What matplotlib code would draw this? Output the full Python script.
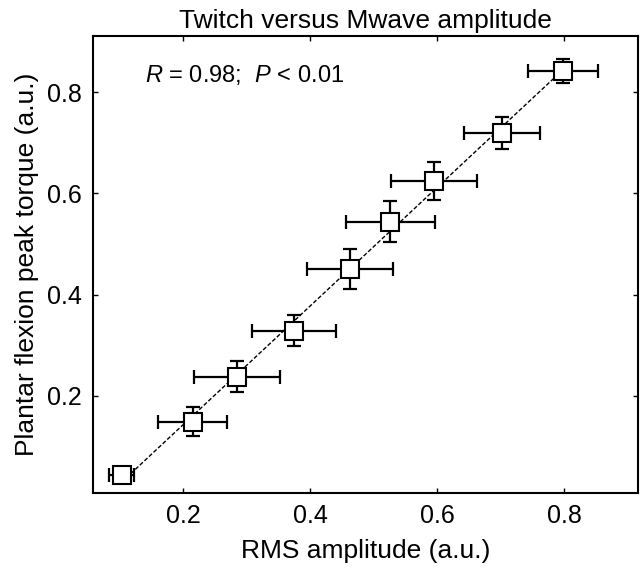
import numpy as np
import matplotlib
matplotlib.use("Agg")
import matplotlib.pyplot as plt

plt.rcParams['font.family'] = ['Liberation Sans', 'DejaVu Sans']
plt.rcParams['mathtext.fontset'] = 'custom'
plt.rcParams['mathtext.rm'] = 'Liberation Sans'
plt.rcParams['mathtext.it'] = 'Liberation Sans:italic'

# group means (a.u.)
rms_amp = [0.103, 0.215, 0.285, 0.375, 0.463, 0.526, 0.595, 0.702, 0.798]
peak_torque = [0.044, 0.149, 0.238, 0.329, 0.451, 0.544, 0.624, 0.719, 0.842]
rms_err = [0.020, 0.054, 0.068, 0.066, 0.068, 0.070, 0.068, 0.060, 0.055]
torque_err = [0.008, 0.028, 0.030, 0.031, 0.039, 0.040, 0.037, 0.032, 0.024]
x_ticks = [0.2, 0.4, 0.6, 0.8]
y_ticks = [0.2, 0.4, 0.6, 0.8]

fig = plt.figure(figsize=(6.4, 5.7), dpi=100)
ax = fig.add_axes([0.1453, 0.135, 0.852, 0.802])

x = np.array(rms_amp)
y = np.array(peak_torque)

# regression line
k, b = np.polyfit(x, y, 1)
xx = np.array([x.min(), x.max()])
ax.plot(xx, k*xx + b, ls=(0, (3, 1.5)), color='black', lw=1.0, zorder=1)

ax.errorbar(x, y, xerr=rms_err, yerr=torque_err, fmt='none', ecolor='black',
            elinewidth=1.6, capsize=5, capthick=1.6, zorder=2)
ax.plot(x, y, 's', ms=13.5, mfc='white', mec='black', mew=1.5, zorder=3)

ax.set_xlim(0.058, 0.9165)
ax.set_ylim(0.008, 0.911)
ax.set_xticks(x_ticks)
ax.set_yticks(y_ticks)
ax.set_xticklabels([f"{t:.1f}" for t in x_ticks])
ax.set_yticklabels([f"{t:.1f}" for t in y_ticks])
ax.tick_params(direction='in', length=3.5, width=1, labelsize=18,
               top=True, right=True, pad=8)
for sp in ax.spines.values():
    sp.set_linewidth(1.5)

ax.set_xlabel("RMS amplitude (a.u.)", fontsize=19, labelpad=8)
ax.set_ylabel("Plantar flexion peak torque (a.u.)", fontsize=19, labelpad=6)
ax.set_title("Twitch versus Mwave amplitude", fontsize=19, pad=6)

ax.text(0.095, 0.915, r"$\it{R}$ = 0.98;  $\it{P}$ < 0.01", transform=ax.transAxes,
        fontsize=17, ha='left', va='center')

fig.savefig("out.png", dpi=100)
